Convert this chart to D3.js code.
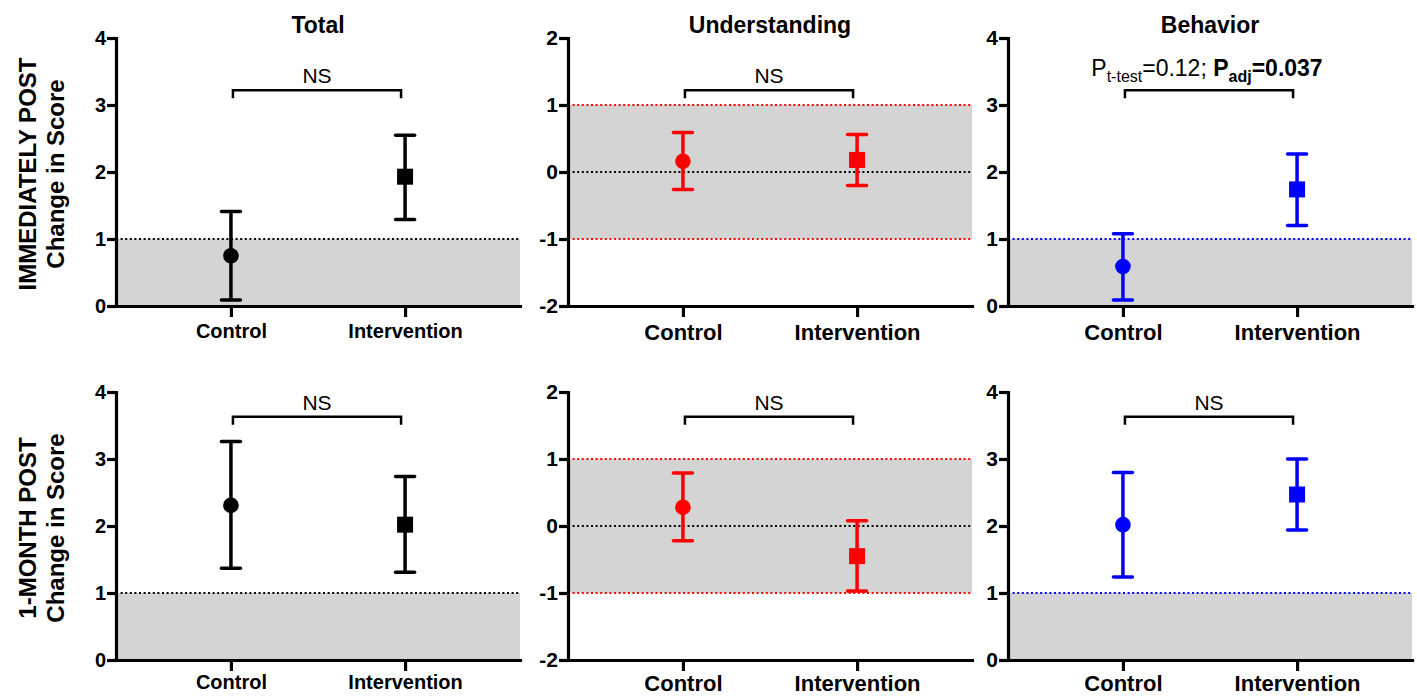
<!DOCTYPE html>
<html>
<head>
<meta charset="utf-8">
<script src="https://cdn.jsdelivr.net/npm/d3@7"></script>
<style>
  body { margin: 0; background: #fff; }
  svg { font-family: "Liberation Sans", Arial, sans-serif; }
</style>
</head>
<body>
<svg id="chart" width="1417" height="696"></svg>
<script>
// categories
const groups = ["Control", "Intervention"];
const measures = ["Total", "Understanding", "Behavior"];
const timepoints = ["IMMEDIATELY POST", "1-MONTH POST"];

// immediately post: [Control, Intervention] per measure
const meanPost = [[0.75, 1.93], [0.16, 0.18], [0.59, 1.74]];
const lowPost  = [[0.09, 1.29], [-0.26, -0.20], [0.09, 1.20]];
const highPost = [[1.41, 2.55], [0.59, 0.56], [1.08, 2.27]];

// 1 month post
const meanMonth = [[2.31, 2.02], [0.28, -0.45], [2.02, 2.47]];
const lowMonth  = [[1.37, 1.31], [-0.22, -0.97], [1.24, 1.94]];
const highMonth = [[3.26, 2.74], [0.79, 0.08], [2.80, 3.00]];

// axes and reference bands per measure
const yDomains = [[0, 4], [-2, 2], [0, 4]];
const yTicks = [[0, 1, 2, 3, 4], [-2, -1, 0, 1, 2], [0, 1, 2, 3, 4]];
const bands = [[0, 1], [-1, 1], [0, 1]];
const zeroLine = [null, 0, null];

// significance brackets (y in data units) and labels
const bracketPost = [3.22, 1.22, 3.22];
const bracketMonth = [3.63, 1.63, 3.63];
const sigPost = ["NS", "NS", "P"];
const sigMonth = ["NS", "NS", "NS"];

const colors = ["#000000", "#ff0000", "#0000ff"];
const grey = "#d4d4d4";

const svg = d3.select("#chart");

const panelLeft = [116, 568, 1008];
const rowTop = [38, 392];
const pw = 404, ph = 268;

function drawPanel(row, col) {
  const means = row === 0 ? meanPost[col] : meanMonth[col];
  const lows = row === 0 ? lowPost[col] : lowMonth[col];
  const highs = row === 0 ? highPost[col] : highMonth[col];
  const color = colors[col];
  const big = col > 0;

  const g = svg.append("g")
      .attr("transform", `translate(${panelLeft[col]},${rowTop[row]})`);

  const x = d3.scalePoint().domain(groups).range([0, pw]).padding(0.66);
  const y = d3.scaleLinear().domain(yDomains[col]).range([ph, 0]);

  // shaded band
  g.append("rect")
      .attr("x", 0)
      .attr("width", pw)
      .attr("y", y(bands[col][1]))
      .attr("height", y(bands[col][0]) - y(bands[col][1]))
      .attr("fill", grey);

  // dotted reference lines
  const refs = [bands[col][1]];
  if (bands[col][0] !== yDomains[col][0]) refs.push(bands[col][0]);
  refs.forEach(v => {
    g.append("line")
        .attr("x1", 0).attr("x2", pw)
        .attr("y1", y(v)).attr("y2", y(v))
        .attr("stroke", color)
        .attr("stroke-width", 2)
        .attr("stroke-dasharray", "2,2.6");
  });
  if (zeroLine[col] !== null) {
    g.append("line")
        .attr("x1", 0).attr("x2", pw)
        .attr("y1", y(zeroLine[col])).attr("y2", y(zeroLine[col]))
        .attr("stroke", "#000")
        .attr("stroke-width", 2)
        .attr("stroke-dasharray", "2,2.6");
  }

  // axes
  const yAxis = g.append("g")
      .call(d3.axisLeft(y).tickValues(yTicks[col]).tickFormat(d => String(d))
        .tickSize(9).tickSizeOuter(0).tickPadding(1));
  const xAxis = g.append("g")
      .attr("transform", `translate(0,${ph})`)
      .call(d3.axisBottom(x).tickSize(11).tickSizeOuter(0).tickPadding(row === 0 ? 7 : 4));

  [yAxis, xAxis].forEach(a => {
    a.selectAll("path, line").attr("stroke", "#000").attr("stroke-width", 3.2);
    a.select(".domain").attr("stroke-linecap", "square");
    a.selectAll("text")
        .attr("fill", "#000")
        .attr("font-family", "Liberation Sans, Arial, sans-serif")
        .attr("font-weight", "bold");
  });
  yAxis.selectAll("text").attr("font-size", big ? 21 : 20);
  xAxis.selectAll("text").attr("font-size", big ? 22 : 20);

  // error bars
  const eb = g.selectAll(".eb")
      .data(groups)
      .join("g")
      .attr("class", "eb");
  eb.append("line")
      .attr("x1", d => x(d)).attr("x2", d => x(d))
      .attr("y1", (d, i) => y(lows[i])).attr("y2", (d, i) => y(highs[i]))
      .attr("stroke", color).attr("stroke-width", 3.5);
  [lows, highs].forEach(arr => {
    eb.append("line")
        .attr("x1", d => x(d) - 9.5).attr("x2", d => x(d) + 9.5)
        .attr("y1", (d, i) => y(arr[i])).attr("y2", (d, i) => y(arr[i]))
        .attr("stroke", color).attr("stroke-width", 3.5)
        .attr("stroke-linecap", "round");
  });

  // markers: circle for control, square for intervention
  g.append("circle")
      .attr("cx", x(groups[0]))
      .attr("cy", y(means[0]))
      .attr("r", 7.8)
      .attr("fill", color);
  g.append("rect")
      .attr("x", x(groups[1]) - 8)
      .attr("y", y(means[1]) - 8)
      .attr("width", 16).attr("height", 16)
      .attr("fill", color);

  // significance bracket
  const by = y(row === 0 ? bracketPost[col] : bracketMonth[col]);
  const bx1 = x(groups[0]) + 2, bx2 = x(groups[1]) - 4;
  g.append("path")
      .attr("d", `M${bx1},${by + 8}V${by}H${bx2}V${by + 8}`)
      .attr("fill", "none")
      .attr("stroke", "#000")
      .attr("stroke-width", 2.5);

  const label = row === 0 ? sigPost[col] : sigMonth[col];
  const lx = (bx1 + bx2) / 2;
  if (label === "NS") {
    g.append("text")
        .attr("x", lx)
        .attr("y", by - 7)
        .attr("text-anchor", "middle")
        .attr("font-size", 21)
        .text("NS");
  } else {
    const t = g.append("text")
        .attr("x", lx - 2)
        .attr("y", by - 14)
        .attr("text-anchor", "middle")
        .attr("font-size", 23);
    t.append("tspan").text("P");
    t.append("tspan").attr("font-size", 16).attr("dy", 6).text("t-test");
    t.append("tspan").attr("dy", -6).text("=0.12; ");
    t.append("tspan").attr("font-weight", "bold").text("P");
    t.append("tspan").attr("font-weight", "bold").attr("font-size", 16).attr("dy", 6).text("adj");
    t.append("tspan").attr("font-weight", "bold").attr("dy", -6).text("=0.037");
  }

  // column title
  if (row === 0) {
    svg.append("text")
        .attr("x", panelLeft[col] + pw / 2)
        .attr("y", 33)
        .attr("text-anchor", "middle")
        .attr("font-size", 23)
        .attr("font-weight", "bold")
        .text(measures[col]);
  }
}

for (let r = 0; r < 2; r++) {
  for (let c = 0; c < 3; c++) drawPanel(r, c);
}

// row labels
timepoints.forEach((tp, r) => {
  const cy = rowTop[r] + ph / 2 + 2;
  svg.append("text")
      .attr("transform", `translate(36,${cy}) rotate(-90)`)
      .attr("text-anchor", "middle")
      .attr("font-size", 24)
      .attr("font-weight", "bold")
      .text(tp);
  svg.append("text")
      .attr("transform", `translate(64,${cy}) rotate(-90)`)
      .attr("text-anchor", "middle")
      .attr("font-size", 24)
      .attr("font-weight", "bold")
      .text("Change in Score");
});
</script>
</body>
</html>
